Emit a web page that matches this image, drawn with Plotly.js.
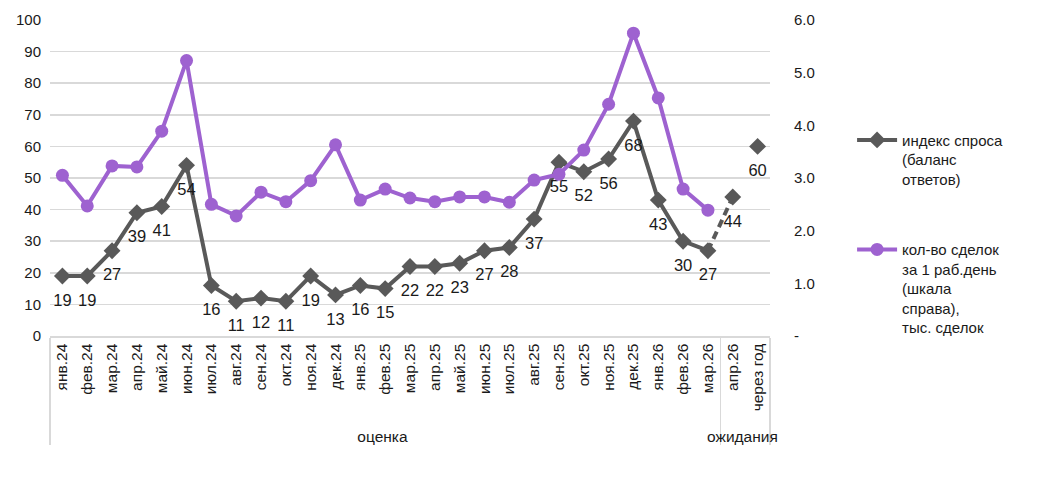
<!DOCTYPE html>
<html>
<head>
<meta charset="utf-8">
<script src="https://cdn.plot.ly/plotly-3.0.1.min.js"></script>
<style>
  body { margin: 0; background: #fff; }
  #chart { width: 1044px; height: 478px; }
</style>
</head>
<body>
<div id="chart"></div>
<script>
// categories (months) and their group on the axis
const months = ['янв.24', 'фев.24', 'мар.24', 'апр.24', 'май.24', 'июн.24', 'июл.24', 'авг.24',
    'сен.24', 'окт.24', 'ноя.24', 'дек.24', 'янв.25', 'фев.25', 'мар.25', 'апр.25', 'май.25',
    'июн.25', 'июл.25', 'авг.25', 'сен.25', 'окт.25', 'ноя.25', 'дек.25', 'янв.26', 'фев.26',
    'мар.26', 'апр.26', 'через год'];
const groupEst = 'оценка', groupExp = 'ожидания';
const estCount = 27;

// индекс спроса (left axis)
const demand = [19, 19, 27, 39, 41, 54, 16, 11, 12, 11, 19, 13, 16, 15, 22, 22, 23, 27, 28, 37,
    55, 52, 56, 68, 43, 30, 27, 44, 60];
// кол-во сделок за 1 раб.день, тыс. (right axis)
const deals = [3.05, 2.47, 3.23, 3.21, 3.89, 5.23, 2.50, 2.28, 2.73, 2.55, 2.95, 3.63, 2.58, 2.79,
    2.62, 2.55, 2.64, 2.64, 2.54, 2.96, 3.07, 3.53, 4.40, 5.75, 4.52, 2.79, 2.39];

const rightTicks = [0, 1, 2, 3, 4, 5, 6];
const rightTickText = ['-', '1.0', '2.0', '3.0', '4.0', '5.0', '6.0'];

const grey = '#595959', purple = '#9e62d0', grid = '#d9d9d9';
const font = 'Liberation Sans, Arial, sans-serif';

const groups = months.map((m, i) => i < estCount ? groupEst : groupExp);
const xAll = [groups, months];
const xEst = [groups.slice(0, estCount), months.slice(0, estCount)];
const xDash = [groups.slice(estCount - 1, estCount + 1), months.slice(estCount - 1, estCount + 1)];
const xExp = [groups.slice(estCount), months.slice(estCount)];

const traces = [
    {   // solid demand line
        x: xEst, y: demand.slice(0, estCount),
        type: 'scatter', mode: 'lines+markers',
        name: 'индекс спроса<br>(баланс<br>ответов)',
        legendgroup: 'a', legendrank: 1,
        line: {color: grey, width: 4},
        marker: {symbol: 'diamond', size: 13, color: grey},
        hoverinfo: 'skip'
    },
    {   // dashed link to expectations
        x: xDash, y: demand.slice(estCount - 1, estCount + 1),
        type: 'scatter', mode: 'lines',
        showlegend: false, legendgroup: 'a',
        line: {color: grey, width: 4, dash: '8px,5px'},
        hoverinfo: 'skip'
    },
    {   // expectation markers
        x: xExp, y: demand.slice(estCount),
        type: 'scatter', mode: 'markers',
        showlegend: false, legendgroup: 'a',
        marker: {symbol: 'diamond', size: 13, color: grey},
        hoverinfo: 'skip'
    },
    {   // deals per working day
        x: xEst, y: deals,
        type: 'scatter', mode: 'lines+markers', yaxis: 'y2',
        name: 'кол-во сделок<br>за 1 раб.день<br>(шкала<br>справа),<br>тыс. сделок',
        legendgroup: 'b', legendrank: 2,
        line: {color: purple, width: 4},
        marker: {symbol: 'circle', size: 13, color: purple},
        hoverinfo: 'skip'
    },
    {   // demand labels, pushed below the points by an invisible marker
        x: xAll, y: demand,
        type: 'scatter', mode: 'markers+text',
        text: demand.map(String), textposition: 'bottom center',
        textfont: {family: font, size: 16.5, color: '#1a1a1a'},
        marker: {size: 26, color: 'rgba(0,0,0,0)'},
        showlegend: false, hoverinfo: 'skip'
    }
];

const layout = {
    width: 1044, height: 478,
    margin: {l: 50, r: 274, t: 19.5, b: 142},
    paper_bgcolor: '#fff', plot_bgcolor: '#fff',
    font: {family: font, size: 15, color: '#1a1a1a'},
    showlegend: true,
    legend: {
        x: 1.114, y: 0.672, xanchor: 'left', yanchor: 'top',
        traceorder: 'grouped', tracegroupgap: 48,
        itemwidth: 40, valign: 'top',
        font: {family: font, size: 15, color: '#1a1a1a'}
    },
    xaxis: {
        type: 'multicategory',
        range: [-0.5, months.length - 0.5],
        tickangle: -90,
        showgrid: false, zeroline: false,
        showline: true, linecolor: grid, linewidth: 1.5,
        showdividers: true, dividercolor: grid, dividerwidth: 1.5,
        ticks: '',
        tickfont: {family: font, size: 15.5, color: '#1a1a1a'}
    },
    yaxis: {
        range: [0, 100], dtick: 10,
        showgrid: true, gridcolor: grid, gridwidth: 1.5,
        zeroline: false, showline: false, ticks: '',
        ticklabelstandoff: 8,
        tickfont: {family: font, size: 15, color: '#1a1a1a'}
    },
    yaxis2: {
        overlaying: 'y', side: 'right',
        range: [0, 6],
        tickmode: 'array', tickvals: rightTicks, ticktext: rightTickText,
        showgrid: false, zeroline: false, showline: false, ticks: '',
        ticklabelstandoff: 23,
        tickfont: {family: font, size: 15, color: '#1a1a1a'}
    }
};

Plotly.newPlot('chart', traces, layout, {displayModeBar: false, staticPlot: true});
</script>
</body>
</html>
